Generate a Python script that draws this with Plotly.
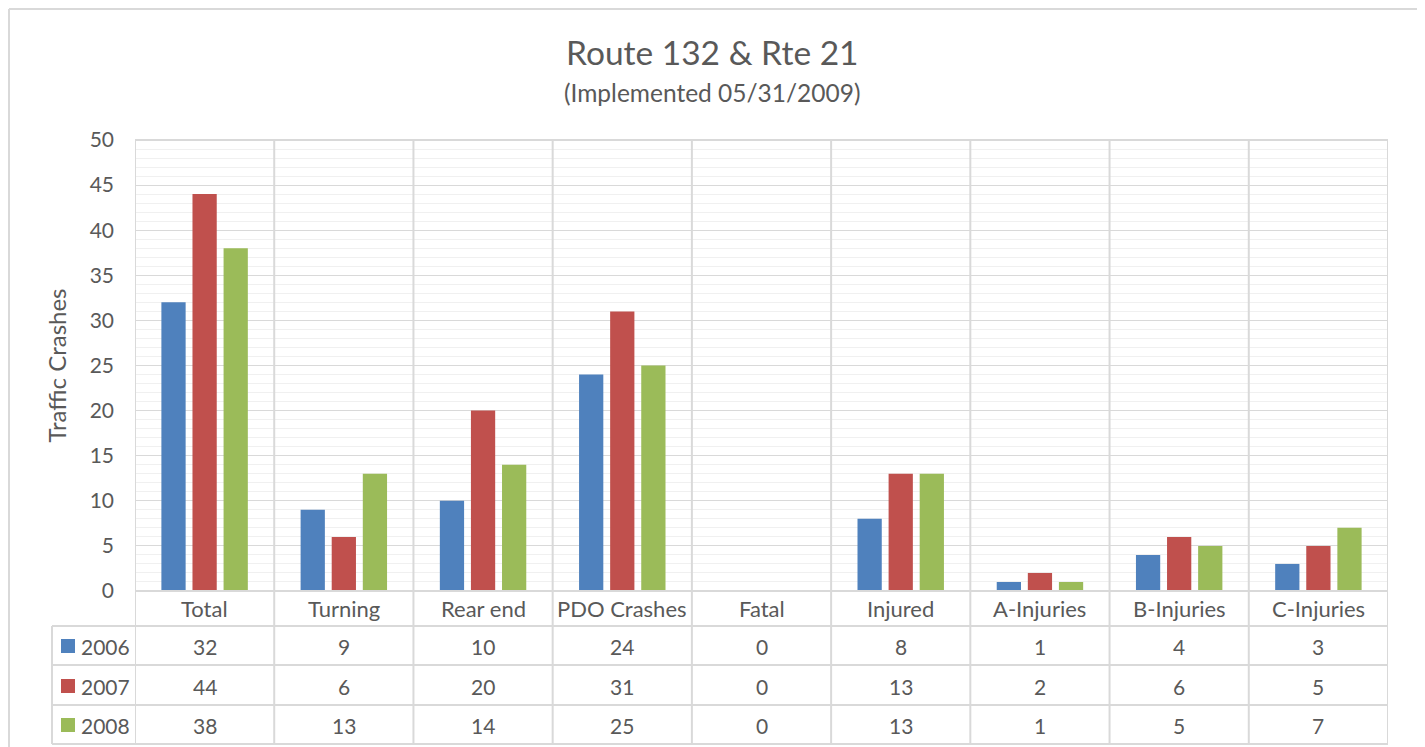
import plotly.graph_objects as go

categories = ["Total", "Turning", "Rear end", "PDO Crashes", "Fatal", "Injured", "A-Injuries", "B-Injuries", "C-Injuries"]
series_names = ["2006", "2007", "2008"]
v2006 = [32, 9, 10, 24, 0, 8, 1, 4, 3]
v2007 = [44, 6, 20, 31, 0, 13, 2, 6, 5]
v2008 = [38, 13, 14, 25, 0, 13, 1, 5, 7]
colors = ["#4F81BD", "#C0504D", "#9BBB59"]
y_ticks = [0, 5, 10, 15, 20, 25, 30, 35, 40, 45, 50]

W, H = 1425, 747
OFF = 8  # browser default body margin
FONT = "Lato"
TXT = "#595959"
GRID = "#d9d9d9"
FS_NUM = 21
FS_LBL = 22

def px(x):
    return (x - OFF) / W

def py(y):
    return 1 - (y - OFF) / H

fig = go.Figure()
for name, vals, c in zip(series_names, [v2006, v2007, v2008], colors):
    fig.add_trace(go.Bar(x=categories, y=vals, name=name, marker=dict(color=c, line=dict(width=0))))

x0p, x1p = px(135), px(1388)
y0p, y1p = py(591), py(140)

fig.update_layout(
    template="none",
    width=W, height=H,
    margin=dict(l=0, r=0, t=0, b=0, pad=0, autoexpand=False),
    paper_bgcolor="white", plot_bgcolor="white",
    barmode="group", bargap=0.33, bargroupgap=0.22,
    showlegend=False,
    font=dict(family=FONT, color=TXT, size=FS_NUM),
    xaxis=dict(domain=[x0p, x1p], range=[-0.5, len(categories) - 0.5], showticklabels=False,
               showgrid=False, zeroline=False, fixedrange=True, automargin=False, showline=False, ticks=""),
    yaxis=dict(domain=[y0p, y1p], range=[0, 50], tickvals=y_ticks, showgrid=True, gridcolor=GRID,
               gridwidth=1, zeroline=False, ticks="", ticklabelstandoff=20, automargin=False, showline=False,
               tickfont=dict(size=FS_NUM, color=TXT, family=FONT),
               minor=dict(dtick=1, showgrid=True, gridcolor="#f0f0f0", gridwidth=1, ticks=""),
               title=dict(text="Traffic Crashes", font=dict(size=24, color=TXT, family=FONT), standoff=16)),
)

shapes = []
line = dict(color=GRID, width=2)
border = dict(color="#d9d9d9", width=2)
# outer border (as separate lines)
shapes.append(dict(type="line", xref="paper", yref="paper", x0=px(9), x1=px(1418), y0=py(9), y1=py(9), line=border))
shapes.append(dict(type="line", xref="paper", yref="paper", x0=px(9), x1=px(9), y0=py(770), y1=py(9), line=border))
shapes.append(dict(type="line", xref="paper", yref="paper", x0=px(1418), x1=px(1418), y0=py(770), y1=py(9), line=border))
# vertical category boundaries (through plot and table)
for i in range(len(categories) + 1):
    xb = i - 0.5
    shapes.append(dict(type="line", xref="x", yref="paper", x0=xb, x1=xb, y0=py(744), y1=py(140), line=line))
# top border of plot
shapes.append(dict(type="line", xref="paper", yref="paper", x0=x0p, x1=x1p, y0=py(140), y1=py(140), line=line))
# axis line
shapes.append(dict(type="line", xref="paper", yref="paper", x0=x0p, x1=x1p, y0=py(591), y1=py(591), line=line))
# table horizontal lines
for yy in [626, 665, 705, 744]:
    shapes.append(dict(type="line", xref="paper", yref="paper", x0=px(52), x1=x1p, y0=py(yy), y1=py(yy), line=line))
# table left border
shapes.append(dict(type="line", xref="paper", yref="paper", x0=px(52), x1=px(52), y0=py(744), y1=py(626), line=line))

annotations = []
annotations.append(dict(text="Route 132 & Rte 21", xref="paper", yref="paper", x=px(712), y=py(52),
                        showarrow=False, font=dict(size=33.5, color=TXT, family=FONT), xanchor="center", yanchor="middle"))
annotations.append(dict(text="(Implemented 05/31/2009)", xref="paper", yref="paper", x=px(712), y=py(93),
                        showarrow=False, font=dict(size=24.5, color=TXT, family=FONT), xanchor="center", yanchor="middle"))
for c in categories:
    annotations.append(dict(text=c, xref="x", yref="paper", x=c, y=py(608), showarrow=False,
                            font=dict(size=FS_LBL, color=TXT, family=FONT), xanchor="center", yanchor="middle"))
row_y = [646, 686, 725]
for name, vals, col, ry in zip(series_names, [v2006, v2007, v2008], colors, row_y):
    shapes.append(dict(type="rect", xref="paper", yref="paper", x0=px(61), x1=px(75), y0=py(ry + 7), y1=py(ry - 7),
                       fillcolor=col, line=dict(width=0)))
    annotations.append(dict(text=name, xref="paper", yref="paper", x=px(79), y=py(ry), showarrow=False,
                            font=dict(size=FS_NUM, color=TXT, family=FONT), xanchor="left", yanchor="middle"))
    for c, v in zip(categories, vals):
        annotations.append(dict(text=str(v), xref="x", yref="paper", x=c, y=py(ry), showarrow=False,
                                font=dict(size=FS_NUM, color=TXT, family=FONT), xanchor="center", yanchor="middle"))

fig.update_layout(shapes=shapes, annotations=annotations)
fig.write_html("out.html")
